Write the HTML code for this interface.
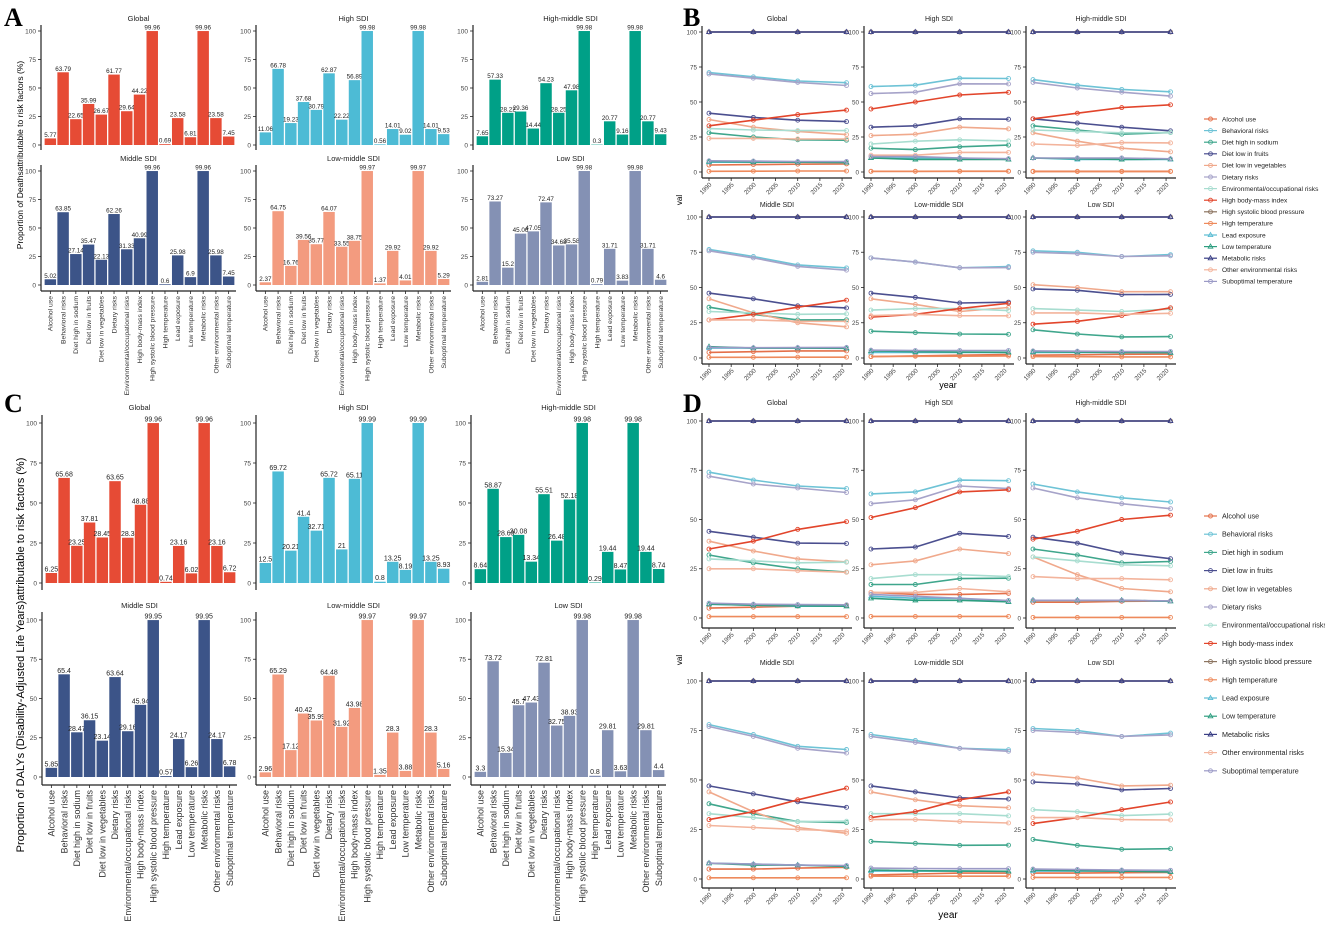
<!DOCTYPE html>
<html><head><meta charset="utf-8">
<style>
body{margin:0;background:#fff;}
svg{display:block;font-family:"Liberation Sans",Arial,sans-serif;}
</style></head>
<body>
<svg id="fig" width="1325" height="927" viewBox="0 0 1325 927" xmlns="http://www.w3.org/2000/svg">
<text x="4" y="26" font-family="Liberation Serif" font-weight="bold" font-size="26">A</text>
<text x="683" y="26" font-family="Liberation Serif" font-weight="bold" font-size="26">B</text>
<text x="4" y="412" font-family="Liberation Serif" font-weight="bold" font-size="26">C</text>
<text x="683" y="412" font-family="Liberation Serif" font-weight="bold" font-size="26">D</text>
<text transform="translate(23,155) rotate(-90)" text-anchor="middle" font-size="8.5">Proportion of Deathsattributable to risk factors (%)</text>
<text transform="translate(24,655) rotate(-90)" text-anchor="middle" font-size="11">Proportion of DALYs (Disability-Adjusted Life Years)attributable to risk factors (%)</text>
<text transform="translate(682,200) rotate(-90)" text-anchor="middle" font-size="8">val</text>
<text transform="translate(682,660) rotate(-90)" text-anchor="middle" font-size="8">val</text>
<text x="948" y="388" text-anchor="middle" font-size="9">year</text>
<text x="948" y="918" text-anchor="middle" font-size="10">year</text>
</svg>
<script>
const categories = ["Alcohol use","Behavioral risks","Diet high in sodium","Diet low in fruits","Diet low in vegetables","Dietary risks","Environmental/occupational risks","High body-mass index","High systolic blood pressure","High temperature","Lead exposure","Low temperature","Metabolic risks","Other environmental risks","Suboptimal temperature"];
const regions = ["Global","High SDI","High-middle SDI","Middle SDI","Low-middle SDI","Low SDI"];
const regionColors = ["#E64B35","#4DBBD5","#00A087","#3C5488","#F39B7F","#8491B4"];
const yTicks = [0,25,50,75,100];
const yearTicks = [1990,1995,2000,2005,2010,2015,2020];
const years = [1990,2000,2010,2021];

const deathsGlobal = [5.77,63.79,22.65,35.99,26.67,61.77,29.64,44.22,99.96,0.69,23.58,6.81,99.96,23.58,7.45];
const deathsHigh = [11.06,66.78,19.23,37.68,30.79,62.87,22.22,56.89,99.98,0.56,14.01,9.02,99.98,14.01,9.53];
const deathsHighMid = [7.65,57.33,28.22,29.36,14.44,54.23,28.25,47.98,99.98,0.3,20.77,9.16,99.98,20.77,9.43];
const deathsMiddle = [5.02,63.85,27.14,35.47,22.13,62.26,31.33,40.99,99.96,0.6,25.98,6.9,99.96,25.98,7.45];
const deathsLowMid = [2.37,64.75,16.76,39.56,35.77,64.07,33.55,38.75,99.97,1.37,29.92,4.01,99.97,29.92,5.29];
const deathsLow = [2.81,73.27,15.2,45.06,47.05,72.47,34.68,35.58,99.98,0.79,31.71,3.83,99.98,31.71,4.6];
const dalysGlobal = [6.25,65.68,23.25,37.81,28.45,63.65,28.3,48.88,99.96,0.74,23.16,6.02,99.96,23.16,6.72];
const dalysHigh = [12.5,69.72,20.21,41.4,32.71,65.72,21,65.11,99.99,0.8,13.25,8.19,99.99,13.25,8.93];
const dalysHighMid = [8.64,58.87,28.69,30.08,13.34,55.51,26.48,52.18,99.98,0.29,19.44,8.47,99.98,19.44,8.74];
const dalysMiddle = [5.85,65.4,28.47,36.15,23.14,63.64,29.16,45.94,99.95,0.57,24.17,6.26,99.95,24.17,6.78];
const dalysLowMid = [2.96,65.29,17.12,40.42,35.99,64.48,31.92,43.98,99.97,1.35,28.3,3.88,99.97,28.3,5.16];
const dalysLow = [3.3,73.72,15.34,45.7,47.43,72.81,32.75,38.93,99.98,0.8,29.81,3.63,99.98,29.81,4.4];

const trendDeathsGlobal = [[5,5.3,5.6,5.8],[71,68,65,63.8],[28,25,23,22.7],[42,39,37,36],[37.5,32,29,26.7],[70,67,64,61.8],[31,30,29.6,29.6],[33,37,41,44.2],[100,100,100,100],[0.5,0.6,0.7,0.7],[7,7,7,6.8],[7.5,7.2,7,6.8],[100,100,100,100],[24,24,23.6,23.6],[8,7.8,7.5,7.5]];
const trendDeathsHigh = [[0.5,0.5,0.5,0.5],[61,62,67,66.8],[17,16,18,19.2],[32,33,38,37.7],[26,27,32,30.8],[56,57,63,62.9],[20,22,23,22.2],[45,50,55,56.9],[100,100,100,100],[0.5,0.5,0.6,0.6],[10,10,10,9],[10,9,9,9],[100,100,100,100],[12,12,14,14],[11,11,10,9.5]];
const trendDeathsHighMid = [[0.5,0.5,0.5,0.5],[66,62,59,57.3],[33,30,27,28.2],[38,35,32,29.4],[28,22,17,14.4],[64,60,57,54.2],[30,29,28,28.3],[38,42,46,48],[100,100,100,100],[0.3,0.3,0.3,0.3],[10,9,9,9],[10,9.5,9,9.2],[100,100,100,100],[20,19,21,20.8],[10,10,10,9.4]];
const trendDeathsMiddle = [[4,4.5,5,5],[77,72,66,63.9],[36,31,27,27.1],[46,42,37,35.5],[42,32,25,22.1],[76,71,65,62.3],[33,32,31,31.3],[27,31,36,41],[100,100,100,100],[0.5,0.5,0.6,0.6],[7,7,7,7],[8,7,7,6.9],[100,100,100,100],[27,27,26,26],[7.5,7.3,7.4,7.5]];
const trendDeathsLowMid = [[1,1.5,2,2.4],[71,68,64,64.8],[19,18,17,16.8],[46,43,39,39.6],[42,38,33,35.8],[71,68,64,64.1],[34,35,35,33.6],[29,31,35,38.8],[100,100,100,100],[1,1.2,1.3,1.4],[4,4,4,4],[5,4.5,4.2,4],[100,100,100,100],[30,31,30,29.9],[5.5,5.3,5.3,5.3]];
const trendDeathsLow = [[2,2.3,2.6,2.8],[76,75,72,73.3],[20,17,15,15.2],[49,48,45,45.1],[52,50,47,47],[75,74,72,72.5],[35,34,33,34.7],[24,26,30,35.6],[100,100,100,100],[1,0.9,0.8,0.8],[4,4,4,3.8],[4.5,4.2,4,3.8],[100,100,100,100],[32,32,31,31.7],[5,4.8,4.6,4.6]];
const trendDalysGlobal = [[5,5.5,6,6.3],[74,70,67,65.7],[32,28,25,23.3],[44,41,38,37.8],[39,34,30,28.5],[72,68,66,63.7],[30,29,28,28.3],[35,39,45,48.9],[100,100,100,100],[0.7,0.7,0.7,0.7],[7,6.5,6,6],[7,6.5,6.2,6],[100,100,100,100],[25,25,24,23.2],[7.5,7,6.8,6.7]];
const trendDalysHigh = [[13,12,12,12.5],[63,64,70,69.7],[17,17,20,20.2],[35,36,43,41.4],[27,29,35,32.7],[58,60,67,65.7],[20,22,22,21],[51,56,64,65.1],[100,100,100,100],[0.8,0.8,0.8,0.8],[11,10,10,8.2],[10,9,9,8.2],[100,100,100,100],[13,13,15,13.3],[12,11,10,8.9]];
const trendDalysHighMid = [[8,8,8.5,8.6],[68,64,61,58.9],[35,32,28,28.7],[41,38,33,30.1],[31,22,15,13.3],[66,61,58,55.5],[31,29,27,26.5],[40,44,50,52.2],[100,100,100,100],[0.3,0.3,0.3,0.3],[9,9,9,8.5],[9,9,9,8.5],[100,100,100,100],[21,20,20,19.4],[9,9,9,8.7]];
const trendDalysMiddle = [[5,5,5.5,5.9],[78,73,67,65.4],[38,33,29,28.5],[47,43,39,36.2],[44,34,26,23.1],[77,72,66,63.6],[33,31,29,29.2],[30,34,40,45.9],[100,100,100,100],[0.6,0.6,0.6,0.6],[8,7.5,7,6.5],[8,7,7,6.3],[100,100,100,100],[27,26,25,24.2],[8,7.5,7,6.8]];
const trendDalysLowMid = [[2,2.5,3,3],[73,70,66,65.3],[19,18,17,17.1],[47,44,41,40.4],[44,40,37,36],[72,69,66,64.5],[33,33,33,31.9],[31,34,40,44],[100,100,100,100],[1.4,1.4,1.4,1.4],[4,4,4,3.9],[4.5,4.2,4,3.9],[100,100,100,100],[30,30,29,28.3],[5.5,5.3,5.2,5.2]];
const trendDalysLow = [[3,3,3.2,3.3],[76,75,72,73.7],[20,17,15,15.3],[49,48,45,45.7],[53,51,47,47.4],[75,74,72,72.8],[35,34,32,32.8],[28,31,35,38.9],[100,100,100,100],[0.8,0.8,0.8,0.8],[4,4,4,3.6],[4.5,4.2,4,3.6],[100,100,100,100],[31,31,30,29.8],[5,4.8,4.5,4.4]];

const seriesColors = ["#E4704A","#6EC3D6","#3FA68C","#4B4F8F","#F0A98C","#A6A3C9","#A8DDD0","#E2452B","#8C7460","#EE8A5C","#5BBCD3","#2E9E80","#3A3F85","#F3B49C","#9B9AC6"];
const triangleSeries = [10,11,12];

const svg = document.getElementById('fig');
const NS = "http://www.w3.org/2000/svg";
function el(tag, attrs, parent){
  const e = document.createElementNS(NS, tag);
  for (const k in attrs) e.setAttribute(k, attrs[k]);
  (parent||svg).appendChild(e);
  return e;
}
function txt(x,y,s,size,anchor,parent){
  const t = el('text',{x:x,y:y,'font-size':size,'text-anchor':anchor||'start',fill:'#222'},parent);
  t.textContent = s;
  return t;
}

function barPanel(name, x0, yTop, yBot, w, vals, color, title, titleY, showX, xFont, vFont, axTop, axBot){
  const g = el('g',{});
  
  
  const ys = v => yBot - (yBot - yTop) * v / 100;
  const t = txt(x0 + w/2, titleY, title, 7.5, 'middle', g);
  
  
  el('line',{x1:x0,y1:axTop,x2:x0,y2:axBot,stroke:'#222','stroke-width':1.2},g);
  yTicks.forEach(v=>{
    el('line',{x1:x0-3,y1:ys(v),x2:x0,y2:ys(v),stroke:'#222','stroke-width':0.8},g);
    const l = txt(x0-5, ys(v)+2.3, String(v), 6.5, 'end', g);
    l.setAttribute('fill','#444');
  });
  const band = (w-4)/vals.length;
  vals.forEach((v,i)=>{
    const bx = x0 + 3 + i*band + band*0.05;
    const r = el('rect',{x:bx,y:ys(v),width:band*0.9,height:yBot-ys(v),fill:color},g);
    
    
    const lb = txt(bx + band*0.45, ys(v)-1.5, String(v), vFont, 'middle', g);
    
    
  });
  if (showX){
    el('line',{x1:x0,y1:axBot,x2:x0+w,y2:axBot,stroke:'#222','stroke-width':1.2},g);
    categories.forEach((c,i)=>{
      const cx = x0 + 3 + i*band + band*0.5;
      el('line',{x1:cx,y1:axBot,x2:cx,y2:axBot+3,stroke:'#222','stroke-width':0.8},g);
      const l = el('text',{transform:`translate(${cx+xFont*0.35},${axBot+5}) rotate(-90)`,'font-size':xFont,'text-anchor':'end',fill:'#333'},g);
      l.textContent = c;
      
      
    });
  }
}

const aCols = [41,256,473];
const aData = [deathsGlobal,deathsHigh,deathsHighMid,deathsMiddle,deathsLowMid,deathsLow];
aData.forEach((d,i)=>{
  const r = Math.floor(i/3), c = i%3;
  if (r===0) barPanel('deaths-bar-'+regions[i].toLowerCase().replace(/[^a-z]+/g,'-'), aCols[c], 31, 145, 195, d, regionColors[i], regions[i], 21, false, 7, 6.3, 25, 150);
  else barPanel('deaths-bar-'+regions[i].toLowerCase().replace(/[^a-z]+/g,'-'), aCols[c], 171, 285, 195, d, regionColors[i], regions[i], 161, true, 6.8, 6.3, 165, 291);
});
const cCols = [42,256,471];
const cData = [dalysGlobal,dalysHigh,dalysHighMid,dalysMiddle,dalysLowMid,dalysLow];
cData.forEach((d,i)=>{
  const r = Math.floor(i/3), c = i%3;
  if (r===0) barPanel('dalys-bar-'+regions[i].toLowerCase().replace(/[^a-z]+/g,'-'), cCols[c], 423, 583, 195, d, regionColors[i], regions[i], 410, false, 9, 7, 415, 590);
  else barPanel('dalys-bar-'+regions[i].toLowerCase().replace(/[^a-z]+/g,'-'), cCols[c], 620, 777, 195, d, regionColors[i], regions[i], 608, true, 9, 7, 612, 785);
});

function linePanel(name, x0, yTop, yBot, axTop, axBot, series, title, titleY){
  const g = el('g',{});
  
  
  const xs = yr => x0 + 7 + (yr-1990) * 137.5/31;
  const ys = v => yBot - (yBot-yTop) * v/100;
  const t = txt(x0+75, titleY, title, 7, 'middle', g);
  
  
  el('line',{x1:x0,y1:axTop,x2:x0,y2:axBot,stroke:'#222','stroke-width':1.2},g);
  el('line',{x1:x0,y1:axBot,x2:x0+150,y2:axBot,stroke:'#222','stroke-width':1.2},g);
  yTicks.forEach(v=>{
    el('line',{x1:x0-3,y1:ys(v),x2:x0,y2:ys(v),stroke:'#222','stroke-width':0.8},g);
    const l = txt(x0-5, ys(v)+2.3, String(v), 6.3, 'end', g);
    l.setAttribute('fill','#444');
  });
  yearTicks.forEach(yr=>{
    const x = xs(yr);
    el('line',{x1:x,y1:axBot,x2:x,y2:axBot+3,stroke:'#222','stroke-width':0.8},g);
    const l = el('text',{transform:`translate(${x+3},${axBot+7}) rotate(-45)`,'font-size':6.3,'text-anchor':'end',fill:'#444'},g);
    l.textContent = String(yr);
  });
  series.forEach((vals,si)=>{
    const col = seriesColors[si];
    const pts = vals.map((v,k)=>xs(years[k]).toFixed(1)+','+ys(v).toFixed(1)).join(' ');
    const pl = el('polyline',{points:pts,fill:'none',stroke:col,'stroke-width':1.6},g);
    
    
    vals.forEach((v,k)=>{
      const x = xs(years[k]), y = ys(v);
      if (triangleSeries.includes(si)) el('polygon',{points:`${x},${y-2.5} ${x-2.3},${y+1.6} ${x+2.3},${y+1.6}`,fill:'none',stroke:col,'stroke-width':0.9},g);
      else el('circle',{cx:x,cy:y,r:2,fill:'none',stroke:col,'stroke-width':0.9},g);
    });
  });
}
const lCols = [702,864,1026];
const bData = [trendDeathsGlobal,trendDeathsHigh,trendDeathsHighMid,trendDeathsMiddle,trendDeathsLowMid,trendDeathsLow];
bData.forEach((d,i)=>{
  const r = Math.floor(i/3), c = i%3;
  if (r===0) linePanel('deaths-trend-'+regions[i].toLowerCase().replace(/[^a-z]+/g,'-'), lCols[c], 32, 172, 26, 178, d, regions[i], 21);
  else linePanel('deaths-trend-'+regions[i].toLowerCase().replace(/[^a-z]+/g,'-'), lCols[c], 217, 358, 210, 364, d, regions[i], 207);
});
const dData = [trendDalysGlobal,trendDalysHigh,trendDalysHighMid,trendDalysMiddle,trendDalysLowMid,trendDalysLow];
dData.forEach((d,i)=>{
  const r = Math.floor(i/3), c = i%3;
  if (r===0) linePanel('dalys-trend-'+regions[i].toLowerCase().replace(/[^a-z]+/g,'-'), lCols[c], 421, 618, 413, 628, d, regions[i], 405);
  else linePanel('dalys-trend-'+regions[i].toLowerCase().replace(/[^a-z]+/g,'-'), lCols[c], 681, 879, 672, 888, d, regions[i], 665);
});

function legend(name, x, y0, step, fs){
  const g = el('g',{});
  
  
  categories.forEach((c,i)=>{
    const y = y0 + i*step, col = seriesColors[i];
    const e = el('g',{},g);
    
    
    el('line',{x1:x,y1:y,x2:x+13,y2:y,stroke:col,'stroke-width':1.2},e);
    if (triangleSeries.includes(i)) el('polygon',{points:`${x+6.5},${y-2.5} ${x+4.2},${y+1.6} ${x+8.8},${y+1.6}`,fill:'none',stroke:col,'stroke-width':0.9},e);
    else el('circle',{cx:x+6.5,cy:y,r:2,fill:'none',stroke:col,'stroke-width':0.9},e);
    txt(x+18, y+fs*0.35, c, fs, 'start', e);
  });
}
legend('legend-deaths', 1204, 119, 11.6, 6.6);
legend('legend-dalys', 1204, 516, 18.2, 7.2);
</script>
</body></html>
